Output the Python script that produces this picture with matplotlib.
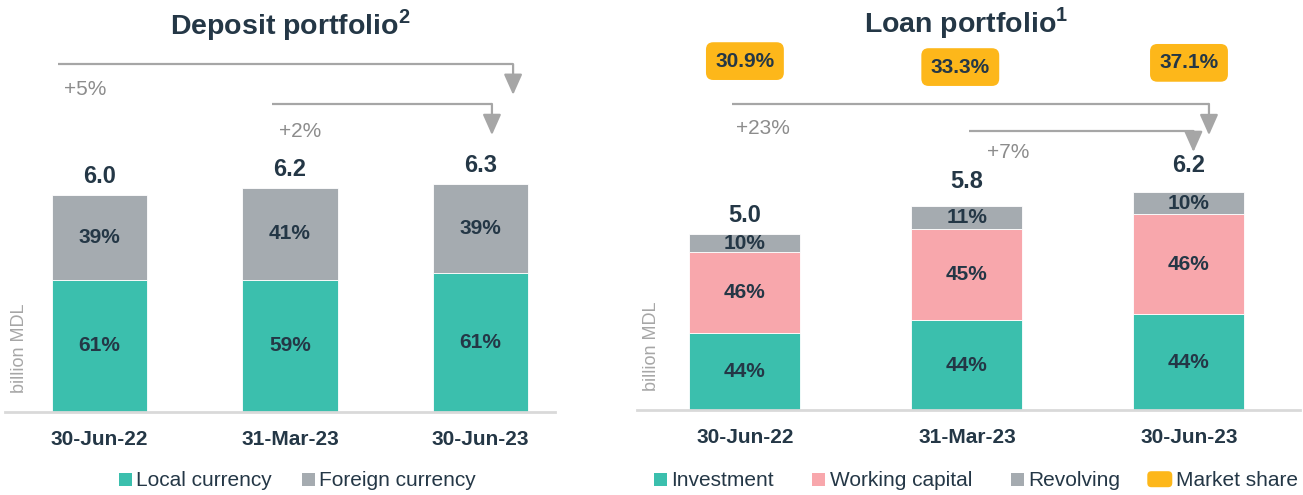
import matplotlib
matplotlib.use("Agg")
import matplotlib.pyplot as plt
from matplotlib.patches import Patch, Rectangle, FancyBboxPatch
from matplotlib.legend_handler import HandlerPatch

plt.rcParams['font.family'] = ['Liberation Sans', 'DejaVu Sans']
plt.rcParams['mathtext.fontset'] = 'custom'
plt.rcParams['mathtext.rm'] = 'Liberation Sans'
plt.rcParams['mathtext.bf'] = 'Liberation Sans:bold'

# ---------------- data ----------------
categories = ["30-Jun-22", "31-Mar-23", "30-Jun-23"]

dep_totals = [6.0, 6.2, 6.3]
dep_local_pct = [61, 59, 61]
dep_foreign_pct = [39, 41, 39]
dep_growth = ["+5%", "+2%"]

loan_totals = [5.0, 5.8, 6.2]
loan_invest_pct = [44, 44, 44]
loan_wc_pct = [46, 45, 46]
loan_rev_pct = [10, 11, 10]
loan_growth = ["+23%", "+7%"]
market_share = ["30.9%", "33.3%", "37.1%"]

# ---------------- style ----------------
TEAL = "#3BBFAD"
GRAY = "#A5ABB0"
PINK = "#F8A7AC"
GOLD = "#FDB71A"
NAVY = "#243746"
ARROW = "#A6A6A6"
LABELGRAY = "#8C8C8C"

W, H = 1303, 495
fig = plt.figure(figsize=(W / 100, H / 100), dpi=100)

axL = fig.add_axes([5 / W, (H - 412) / H, 550 / W, 412 / H])
axR = fig.add_axes([637 / W, (H - 410) / H, 663 / W, 410 / H])

axL.set_xlim(-0.496, 2.391)
axL.set_ylim(0, 412 / 36.2)
axR.set_xlim(-0.486, 2.5)
axR.set_ylim(0, 410 / 35.1)

for ax in (axL, axR):
    for s in ("top", "right", "left"):
        ax.spines[s].set_visible(False)
    ax.spines["bottom"].set_color("#D9D9D9")
    ax.spines["bottom"].set_linewidth(2)
    ax.set_yticks([])
    ax.set_xticks(range(len(categories)))
    ax.set_xticklabels(categories, fontsize=15, fontweight="bold", color=NAVY)
    ax.tick_params(axis="x", length=0, pad=13)
    ax.patch.set_alpha(0)

x = list(range(len(categories)))
bw = 0.5

# ---- deposit chart ----
dep_local = [t * p / 100 for t, p in zip(dep_totals, dep_local_pct)]
dep_foreign = [t * p / 100 for t, p in zip(dep_totals, dep_foreign_pct)]
axL.bar(x, dep_local, bw, color=TEAL, edgecolor="white", linewidth=0.6)
axL.bar(x, dep_foreign, bw, bottom=dep_local, color=GRAY, edgecolor="white", linewidth=0.6)
for i in x:
    axL.text(i, dep_local[i] / 2, f"{dep_local_pct[i]}%", ha="center", va="center",
             fontsize=15, fontweight="bold", color=NAVY)
    axL.text(i, dep_local[i] + dep_foreign[i] / 2, f"{dep_foreign_pct[i]}%", ha="center",
             va="center", fontsize=15, fontweight="bold", color=NAVY)
    axL.annotate(f"{dep_totals[i]:.1f}", (i, dep_totals[i]), xytext=(0, 13),
                 textcoords="offset points", ha="center", va="center",
                 fontsize=17, fontweight="bold", color=NAVY)

# ---- loan chart ----
loan_inv = [t * p / 100 for t, p in zip(loan_totals, loan_invest_pct)]
loan_wc = [t * p / 100 for t, p in zip(loan_totals, loan_wc_pct)]
loan_rev = [t * p / 100 for t, p in zip(loan_totals, loan_rev_pct)]
b2 = [a + b for a, b in zip(loan_inv, loan_wc)]
axR.bar(x, loan_inv, bw, color=TEAL, edgecolor="white", linewidth=0.6)
axR.bar(x, loan_wc, bw, bottom=loan_inv, color=PINK, edgecolor="white", linewidth=0.6)
axR.bar(x, loan_rev, bw, bottom=b2, color=GRAY, edgecolor="white", linewidth=0.6)
val_off = [14, 18, 19]
for i in x:
    axR.text(i, loan_inv[i] / 2, f"{loan_invest_pct[i]}%", ha="center", va="center",
             fontsize=15, fontweight="bold", color=NAVY)
    axR.text(i, loan_inv[i] + loan_wc[i] / 2, f"{loan_wc_pct[i]}%", ha="center",
             va="center", fontsize=15, fontweight="bold", color=NAVY)
    axR.text(i, b2[i] + loan_rev[i] / 2, f"{loan_rev_pct[i]}%", ha="center",
             va="center", fontsize=15, fontweight="bold", color=NAVY)
    axR.annotate(f"{loan_totals[i]:.1f}", (i, loan_totals[i]), xytext=(0, val_off[i]),
                 textcoords="offset points", ha="center", va="center",
                 fontsize=17, fontweight="bold", color=NAVY)

# market share boxes
ms_x = [0.0, 0.97, 2.0]
ms_y = [9.94, 9.77, 9.89]
for i, s in enumerate(market_share):
    axR.text(ms_x[i], ms_y[i], s, ha="center", va="center", fontsize=15,
             fontweight="bold", color=NAVY,
             bbox=dict(boxstyle="round,pad=0.45,rounding_size=0.35", fc=GOLD, ec="none"))


def growth_arrow(ax, x0, x1, y_line, y_tip, label, lx, ly):
    ax.plot([x0, x1], [y_line, y_line], color=ARROW, lw=1.6, solid_capstyle="butt")
    ax.annotate("", xy=(x1, y_tip), xytext=(x1, y_line),
                arrowprops=dict(arrowstyle="-|>,head_length=0.9,head_width=0.4",
                                mutation_scale=14, color=ARROW, lw=1.6,
                                shrinkA=0, shrinkB=0))
    ax.text(lx, ly, label, ha="left", va="center", fontsize=15, color=LABELGRAY)


growth_arrow(axL, -0.218, 2.171, 9.61, 8.76, dep_growth[0], -0.185, 8.90)
growth_arrow(axL, 0.905, 2.06, 8.51, 7.65, dep_growth[1], 0.94, 7.76)
growth_arrow(axR, -0.06, 2.09, 8.72, 7.83, loan_growth[0], -0.04, 8.02)
growth_arrow(axR, 1.01, 2.02, 7.95, 7.35, loan_growth[1], 1.09, 7.34)

# titles
fig.text(290 / W, 1 - 25 / H, r"Deposit portfolio$^{\mathbf{2}}$", ha="center", va="center",
         fontsize=20.5, fontweight="bold", color=NAVY)
fig.text(966 / W, 1 - 23 / H, r"Loan portfolio$^{\mathbf{1}}$", ha="center", va="center",
         fontsize=20.5, fontweight="bold", color=NAVY)

# y labels
fig.text(20 / W, 1 - 348 / H, "billion MDL", rotation=90, ha="center", va="center",
         fontsize=13, color="#A6A6A6")
fig.text(652 / W, 1 - 346 / H, "billion MDL", rotation=90, ha="center", va="center",
         fontsize=13, color="#A6A6A6")


# legends
class SquareHandler(HandlerPatch):
    def create_artists(self, legend, orig_handle, xdescent, ydescent, width, height,
                       fontsize, trans):
        s = 13 * 72 / 100
        p = Rectangle((width - s - xdescent, -ydescent + (height - s) / 2), s, s,
                      fc=orig_handle.get_facecolor(), ec="none", transform=trans)
        return [p]


class RoundHandler(HandlerPatch):
    def create_artists(self, legend, orig_handle, xdescent, ydescent, width, height,
                       fontsize, trans):
        h = 16 * 72 / 100
        p = FancyBboxPatch((-xdescent, -ydescent + (height - h) / 2), width, h,
                           boxstyle="round,pad=0,rounding_size=3",
                           fc=orig_handle.get_facecolor(), ec="none", transform=trans)
        return [p]


legL = [Patch(fc=TEAL), Patch(fc=GRAY)]
legR = [Patch(fc=TEAL), Patch(fc=PINK), Patch(fc=GRAY), Patch(fc=GOLD)]
sq = SquareHandler()
hm = {h: sq for h in legL + legR[:3]}
hm[legR[3]] = RoundHandler()

fig.legend(legL, ["Local currency", "Foreign currency"], handler_map=hm,
           loc="center", bbox_to_anchor=(295 / W, 1 - 481 / H), ncol=2, frameon=False,
           fontsize=15, handlelength=0.85, handletextpad=0.2, columnspacing=1.2,
           labelcolor=NAVY)
fig.legend(legR, ["Investment", "Working capital", "Revolving", "Market share"],
           handler_map=hm, loc="center", bbox_to_anchor=(970 / W, 1 - 481 / H), ncol=4,
           frameon=False, fontsize=15, handlelength=1.2, handletextpad=0.2,
           columnspacing=1.3, labelcolor=NAVY, borderpad=0, borderaxespad=0)

fig.savefig("out.png", dpi=100)
